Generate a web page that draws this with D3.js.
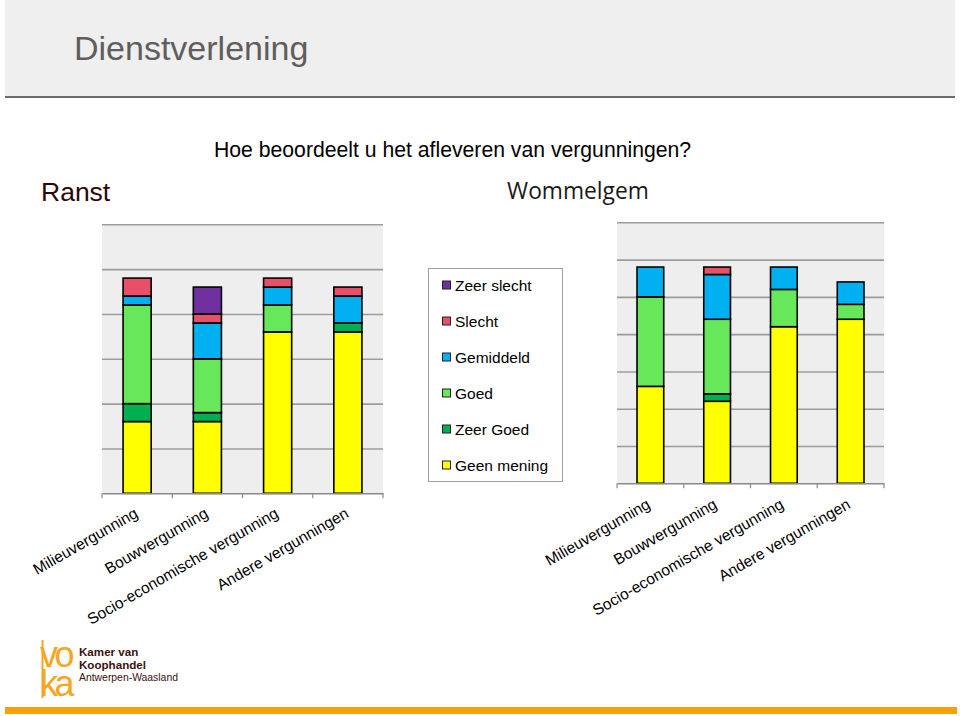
<!DOCTYPE html>
<html>
<head>
<meta charset="utf-8">
<script src="https://cdn.jsdelivr.net/npm/d3@7"></script>
<style>
  html, body { margin: 0; padding: 0; background: #ffffff; }
  svg { display: block; }
</style>
</head>
<body>
<svg id="chart" width="960" height="716"></svg>
<script>
// ---------- data ----------
const categories = ["Milieuvergunning", "Bouwvergunning", "Socio-economische vergunning", "Andere vergunningen"];
const seriesNames = ["Geen mening", "Zeer Goed", "Goed", "Gemiddeld", "Slecht", "Zeer slecht"];
const seriesColors = ["#ffff00", "#00b050", "#66e85a", "#00b0f0", "#e8506a", "#7030a0"];
const legendOrder = ["Zeer slecht", "Slecht", "Gemiddeld", "Goed", "Zeer Goed", "Geen mening"];

// Ranst (%)
const ranstGeenMening = [32, 32, 72, 72];
const ranstZeerGoed   = [8, 4, 0, 4];
const ranstGoed       = [44, 24, 12, 0];
const ranstGemiddeld  = [4, 16, 8, 12];
const ranstSlecht     = [8, 4, 4, 4];
const ranstZeerSlecht = [0, 12, 0, 0];

// Wommelgem (%)
const womGeenMening = [52, 44, 84, 88];
const womZeerGoed   = [0, 4, 0, 0];
const womGoed       = [48, 40, 20, 8];
const womGemiddeld  = [16, 24, 12, 12];
const womSlecht     = [0, 4, 0, 0];
const womZeerSlecht = [0, 0, 0, 0];

const ranstGrid = [20, 40, 60, 80, 100, 120];
const womGrid   = [20, 40, 60, 80, 100, 120, 140];

const pageTitle = "Dienstverlening";
const question = "Hoe beoordeelt u het afleveren van vergunningen?";

// ---------- drawing ----------
const svg = d3.select("#chart");
const font = "'Liberation Sans', Arial, sans-serif";
const color = d3.scaleOrdinal().domain(seriesNames).range(seriesColors);

// header band
svg.append("rect").attr("x", 5).attr("y", 0).attr("width", 950).attr("height", 96).attr("fill", "#efefef");
svg.append("line").attr("x1", 5).attr("x2", 955).attr("y1", 97).attr("y2", 97)
  .attr("stroke", "#6a6a6a").attr("stroke-width", 2.2);
svg.append("text").attr("x", 74).attr("y", 60).text(pageTitle)
  .attr("font-family", font).attr("font-size", 34).attr("fill", "#5e5e5e");

svg.append("text").attr("x", 214).attr("y", 157).text(question)
  .attr("font-family", font).attr("font-size", 21.2).attr("fill", "#000");

svg.append("text").attr("x", 41).attr("y", 201).text("Ranst")
  .attr("font-family", font).attr("font-size", 26.5).attr("fill", "#2a0808");
svg.append("text").attr("x", 578).attr("y", 199).attr("text-anchor", "middle").text("Wommelgem")
  .attr("font-family", "'Open Sans', Lato, sans-serif").attr("font-size", 22.8).attr("fill", "#1a1a1a");

function buildRows(arrs) {
  return categories.map((c, i) => {
    const row = { cat: c };
    seriesNames.forEach((s, k) => { row[s] = arrs[k][i]; });
    return row;
  });
}

function drawChart(opt) {
  const g = svg.append("g");
  const x = d3.scaleBand().domain(categories).range([opt.x0, opt.x1]).paddingInner(0.6).paddingOuter(0.3);
  const y = d3.scaleLinear().domain([0, opt.max]).range([opt.bottom, opt.top]);

  g.append("rect").attr("x", opt.x0).attr("y", y(opt.max))
    .attr("width", opt.x1 - opt.x0).attr("height", opt.bottom - y(opt.max)).attr("fill", "#eeeeee");

  const grid = g.append("g").attr("transform", `translate(${opt.x0},0)`)
    .call(d3.axisLeft(y).tickValues(opt.grid).tickSize(-(opt.x1 - opt.x0)).tickFormat(""));
  grid.select(".domain").remove();
  grid.selectAll("line").attr("stroke", "#9c9c9c").attr("stroke-width", 1.6);

  const stack = d3.stack().keys(seriesNames)(opt.rows);
  g.selectAll("g.layer").data(stack).join("g").attr("class", "layer")
    .attr("fill", d => color(d.key))
    .selectAll("rect").data(d => d.filter(p => p[1] - p[0] > 0)).join("rect")
    .attr("x", d => x(d.data.cat))
    .attr("width", x.bandwidth())
    .attr("y", d => y(d[1]))
    .attr("height", d => y(d[0]) - y(d[1]))
    .attr("stroke", "#000").attr("stroke-width", 1.6);

  const ax = g.append("g").attr("transform", `translate(0,${opt.bottom})`)
    .call(d3.axisBottom(x).tickSize(0).tickSizeOuter(0));
  ax.select(".domain").attr("stroke", "#8a8a8a").attr("stroke-width", 1.4);
  ax.selectAll("text")
    .attr("font-family", font).attr("font-size", 15.6).attr("fill", "#000")
    .attr("text-anchor", "end").attr("x", 0).attr("y", 0).attr("dy", 0)
    .attr("transform", `translate(${opt.lx},${opt.ly}) rotate(-30)`);

  const step = x.step();
  g.selectAll("line.bt").data(d3.range(categories.length + 1)).join("line").attr("class", "bt")
    .attr("x1", i => opt.x0 + i * step).attr("x2", i => opt.x0 + i * step)
    .attr("y1", opt.bottom).attr("y2", opt.bottom + 5)
    .attr("stroke", "#8a8a8a").attr("stroke-width", 1.2);
}

drawChart({
  rows: buildRows([ranstGeenMening, ranstZeerGoed, ranstGoed, ranstGemiddeld, ranstSlecht, ranstZeerSlecht]),
  x0: 102, x1: 383, top: 224.3, bottom: 493.3, max: 120, grid: ranstGrid, lx: 2, ly: 23
});
drawChart({
  rows: buildRows([womGeenMening, womZeerGoed, womGoed, womGemiddeld, womSlecht, womZeerSlecht]),
  x0: 617, x1: 884, top: 222.3, bottom: 483.3, max: 140, grid: womGrid, lx: 1, ly: 24
});

// legend
const lg = svg.append("g");
lg.append("rect").attr("x", 428.5).attr("y", 268.5).attr("width", 134).attr("height", 213)
  .attr("fill", "#fff").attr("stroke", "#a0a0a0").attr("stroke-width", 1);
const li = lg.selectAll("g.li").data(legendOrder).join("g").attr("class", "li")
  .attr("transform", (d, i) => `translate(0,${291 + i * 36})`);
li.append("rect").attr("x", 442.5).attr("y", -10).attr("width", 8).attr("height", 8)
  .attr("fill", d => color(d)).attr("stroke", "#222").attr("stroke-width", 1);
li.append("text").attr("x", 455).attr("y", 0).text(d => d)
  .attr("font-family", font).attr("font-size", 15.5).attr("fill", "#000");

// logo
const logo = svg.append("g");
const orange = "#f5a623";
logo.append("line").attr("x1", 42.5).attr("x2", 42.5).attr("y1", 640).attr("y2", 698)
  .attr("stroke", orange).attr("stroke-width", 2);
const mark = logo.append("text").attr("font-family", font).attr("font-size", 36)
  .attr("letter-spacing", -3.5).attr("fill", orange);
mark.append("tspan").attr("x", 40).attr("y", 667).text("vo");
mark.append("tspan").attr("x", 40).attr("y", 696).text("ka");
const org = logo.append("text").attr("font-family", font).attr("fill", "#3a1212");
org.append("tspan").attr("x", 79).attr("y", 656).attr("font-size", 11.6).attr("font-weight", "bold").text("Kamer van");
org.append("tspan").attr("x", 79).attr("y", 668.5).attr("font-size", 11.6).attr("font-weight", "bold").text("Koophandel");
org.append("tspan").attr("x", 79).attr("y", 681).attr("font-size", 10.4).text("Antwerpen-Waasland");

svg.append("rect").attr("x", 5).attr("y", 707).attr("width", 952).attr("height", 7).attr("fill", "#f6a10c");
</script>
</body>
</html>
